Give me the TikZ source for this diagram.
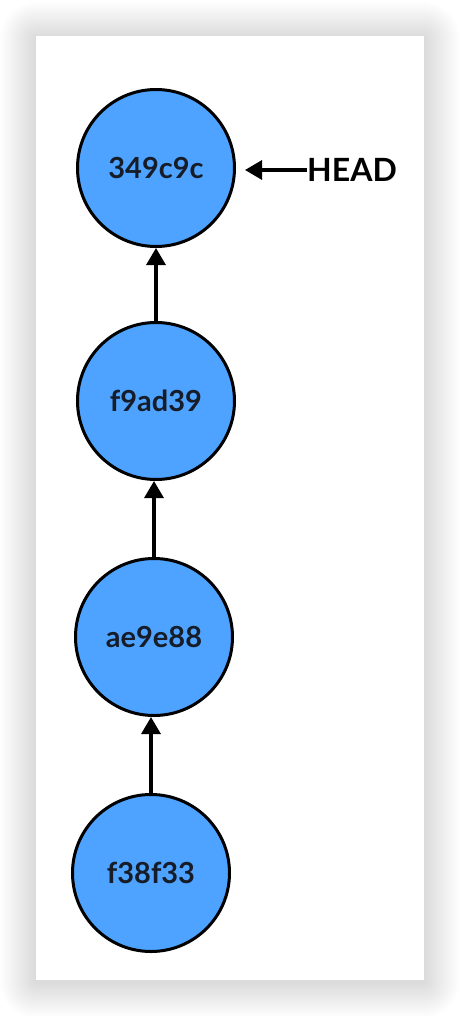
\documentclass[tikz,border=0pt]{standalone}
\usepackage{fontspec}
\setmainfont{Lato}
\usetikzlibrary{arrows.meta}
\definecolor{commitblue}{RGB}{77,163,255}
\definecolor{inkdark}{RGB}{22,28,40}
\tikzset{
  commit/.style={circle, draw=black, line width=3pt, fill=commitblue, minimum size=157pt, inner sep=0pt,
    font=\fontsize{29}{32}\selectfont\bfseries, text=inkdark},
  parentarrow/.style={-{Triangle[length=17pt,width=19pt]}, line width=3.2pt, black},
  reflabel/.style={font=\fontsize{32}{36}\selectfont\bfseries, text=black, inner sep=0pt, anchor=west}
}
\begin{document}
\begin{tikzpicture}[x=1pt,y=-1pt]
\useasboundingbox (0,0) rectangle (460,1016);
\fill[white] (0,0) rectangle (460,1016);
% soft shadow around the card
\foreach \e in {36,35,...,1}{
  \fill[black, opacity=0.0048, rounded corners=\e pt] (36-\e,36-\e+2) rectangle (424+\e,980+\e+2);
}
\fill[white] (36,36) rectangle (424,980);
\node[commit] (c1) at (156,168) {349c9c};
\node[commit] (c2) at (156,401) {f9ad39};
\node[commit] (c3) at (154,637) {ae9e88};
\node[commit] (c4) at (151,873) {f38f33};
\node[reflabel] (head) at (307,170) {HEAD};
\draw[parentarrow] (c2.north) -- (c2.north |- c1.south);
\draw[parentarrow] (c3.north) -- (c3.north |- c2.south);
\draw[parentarrow] (c4.north) -- (c4.north |- c3.south);
\draw[parentarrow, shorten >=9pt] (head.west) -- (head.west -| c1.east);
\end{tikzpicture}
\end{document}
